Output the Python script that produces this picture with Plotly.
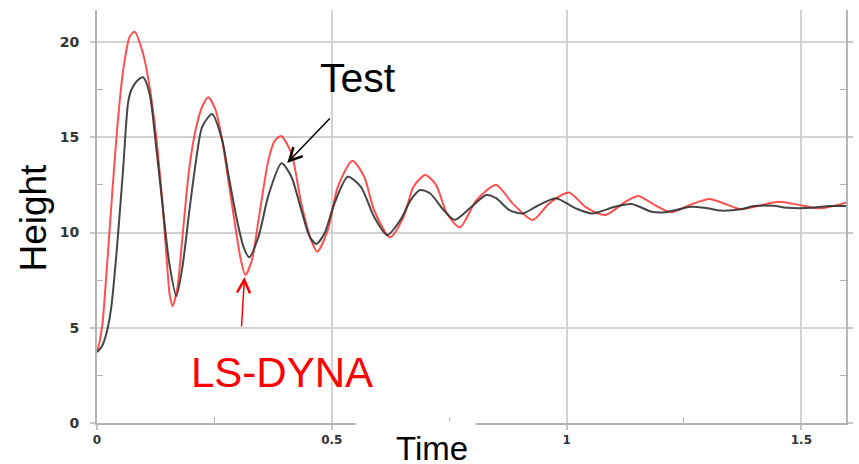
import plotly.graph_objects as go

# LS-DYNA simulation (red)
t_lsdyna = [0.000, 0.005, 0.012, 0.020, 0.027, 0.0415, 0.0556, 0.0696, 0.080, 0.098, 0.112, 0.126,
            0.140, 0.149, 0.155, 0.161, 0.1716, 0.182, 0.196, 0.210, 0.224, 0.237, 0.2525,
            0.2665, 0.2806, 0.2947, 0.305, 0.316, 0.330, 0.344, 0.365, 0.378, 0.392, 0.414,
            0.435, 0.456, 0.469, 0.4916, 0.5127, 0.544, 0.569, 0.590, 0.624, 0.653, 0.674,
            0.699, 0.722, 0.745, 0.773, 0.808, 0.850, 0.885, 0.928, 0.963, 1.005, 1.040,
            1.082, 1.1245, 1.1525, 1.188, 1.223, 1.263, 1.304, 1.338, 1.371, 1.410, 1.4515,
            1.495, 1.539, 1.5956]
h_lsdyna = [3.73, 4.2, 5.3, 7.8, 10.2, 15.03, 18.5, 20.28, 20.54, 19.4, 17.65, 15.03,
            11.35, 8.4, 6.7, 6.14, 7.16, 9.78, 13.28, 15.38, 16.6, 17.1, 16.43,
            14.86, 12.58, 10.3, 8.73, 7.77, 8.56, 10.66, 13.8, 14.8, 15.07, 14.16,
            11.53, 9.6, 8.99, 10.13, 12.4, 13.77, 12.93, 11.18, 9.75, 10.83, 12.4,
            13.02, 12.5, 11.0, 10.27, 11.7, 12.49, 11.53, 10.66, 11.53, 12.1, 11.35,
            10.92, 11.6, 11.92, 11.44, 11.06, 11.45, 11.76, 11.5, 11.22, 11.4, 11.62,
            11.45, 11.27, 11.57]

# Test measurement (black)
t_test = [0.000, 0.010, 0.020, 0.030, 0.0415, 0.0555, 0.066, 0.073, 0.085, 0.098, 0.112,
          0.126, 0.140, 0.154, 0.169, 0.182, 0.196, 0.210, 0.224, 0.245, 0.2665, 0.2806,
          0.298, 0.312, 0.324, 0.344, 0.365, 0.393, 0.414, 0.435, 0.453, 0.467, 0.4846,
          0.5057, 0.534, 0.562, 0.590, 0.618, 0.646, 0.668, 0.688, 0.7096, 0.738, 0.762,
          0.794, 0.829, 0.850, 0.878, 0.9065, 0.9346, 0.977, 1.019, 1.054, 1.103, 1.1386,
          1.181, 1.209, 1.265, 1.300, 1.328, 1.371, 1.399, 1.441, 1.469, 1.525, 1.560, 1.5956]
h_test = [3.73, 4.0, 4.7, 6.0, 8.9, 13.28, 16.78, 17.48, 17.95, 18.15, 17.3,
          14.5, 11.35, 8.38, 6.67, 8.2, 11.0, 13.63, 15.55, 16.22, 14.86, 12.93,
          10.66, 9.25, 8.7, 9.78, 11.95, 13.63, 12.93, 11.18, 9.78, 9.4, 9.96,
          11.53, 12.93, 12.4, 10.83, 9.87, 10.66, 11.7, 12.23, 12.05, 11.18, 10.66,
          11.27, 11.97, 11.8, 11.18, 11.0, 11.35, 11.8, 11.27, 11.0, 11.35, 11.5,
          11.09, 11.06, 11.35, 11.27, 11.15, 11.22, 11.39, 11.4, 11.3, 11.3, 11.39, 11.39]

x_ticks = [0, 0.5, 1, 1.5]
x_ticktext = ["0", "0.5", "1", "1.5"]
y_ticks = [0, 5, 10, 15, 20]
y_ticktext = ["0", "5", "10", "15", "20"]

fig = go.Figure()
fig.add_trace(go.Scatter(x=t_lsdyna, y=h_lsdyna, mode="lines", name="LS-DYNA",
                         line=dict(color="rgba(255,60,60,0.9)", width=2, shape="spline", smoothing=0.7)))
fig.add_trace(go.Scatter(x=t_test, y=h_test, mode="lines", name="Test",
                         line=dict(color="rgba(50,50,50,0.9)", width=2, shape="spline", smoothing=0.7)))

fig.update_layout(
    width=859, height=464,
    margin=dict(l=97, r=6, t=10, b=41),
    paper_bgcolor="white", plot_bgcolor="white",
    showlegend=False,
    font=dict(family="Liberation Sans"),
    xaxis=dict(range=[0, 1.595], tickvals=x_ticks, ticktext=x_ticktext,
               showgrid=True, gridcolor="#d2d2d2", gridwidth=2,
               showline=True, linecolor="#b4b4b4", linewidth=2, mirror=False,
               ticks="outside", ticklen=5, tickwidth=2, tickcolor="#c8c8c8",
               tickfont=dict(family="DejaVu Sans", size=12, color="#333333", weight="bold"),
               zeroline=False,
               minor=dict(tickvals=[0.25, 0.75, 1.25], ticks="inside", ticklen=6,
                          tickcolor="#b4b4b4", tickwidth=1, showgrid=False)),
    yaxis=dict(range=[0, 21.68], tickvals=y_ticks, ticktext=y_ticktext,
               showgrid=True, gridcolor="#d2d2d2", gridwidth=2,
               showline=True, linecolor="#b4b4b4", linewidth=2, mirror="ticks",
               ticks="outside", ticklen=5, tickwidth=2, tickcolor="#c8c8c8",
               tickfont=dict(family="DejaVu Sans", size=14, color="#333333", weight="bold"),
               ticklabelstandoff=8,
               zeroline=False,
               minor=dict(tickvals=[2.5, 7.5, 12.5, 17.5], ticks="inside", ticklen=6,
                          tickcolor="#b4b4b4", tickwidth=1, showgrid=False)),
)

# white gap in the bottom axis behind the "Time" label
fig.add_shape(type="rect", xref="paper", yref="paper", layer="above",
              x0=(358 - 97) / 756, x1=(479 - 97) / 756, y0=-0.012, y1=0.004,
              fillcolor="white", line=dict(width=0))

fig.add_annotation(x=0.405, y=13.65, xref="x", yref="y", ax=44, ay=-46,
                   text="", showarrow=True, arrowhead=5, arrowsize=1.7, arrowwidth=1.5,
                   arrowcolor="black")
fig.add_annotation(x=0.349, y=0.835, xref="paper", yref="paper", text="Test",
                   showarrow=False, font=dict(family="Liberation Sans", size=41, color="black"),
                   xanchor="center", yanchor="middle")
fig.add_annotation(x=0.314, y=7.66, xref="x", yref="y", ax=-3, ay=51,
                   text="", showarrow=True, arrowhead=5, arrowsize=1.7, arrowwidth=1.5,
                   arrowcolor="red")
fig.add_annotation(x=0.247, y=0.123, xref="paper", yref="paper", text="LS-DYNA",
                   showarrow=False, font=dict(family="Liberation Sans", size=42, color="red"),
                   xanchor="center", yanchor="middle")
fig.add_annotation(x=(435 - 97) / 756, y=0, xref="paper", yref="paper", text="Time",
                   showarrow=False, font=dict(family="Liberation Sans", size=33, color="black"),
                   xanchor="center", yanchor="top", yshift=-5)
fig.add_annotation(x=(33 - 97) / 756, y=(423 - 218) / 413, xref="paper", yref="paper",
                   text="Height", textangle=-90, showarrow=False,
                   font=dict(family="Liberation Sans", size=37, color="black"),
                   xanchor="center", yanchor="middle")

fig.write_html("out.html", config={"displayModeBar": False},
               post_script="document.body.style.margin='0';")
